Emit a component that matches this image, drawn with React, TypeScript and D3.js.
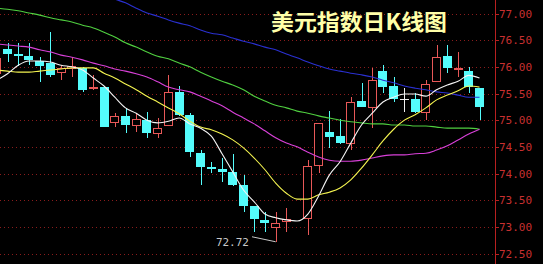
import React from "react";
import * as d3 from "d3";

// Daily candles, slot index 0..44 (slot -1 is the partly hidden first bar, slot 27 has no bar)
const slots = [-1, 0, 1, 2, 3, 4, 5, 6, 7, 8, 9, 10, 11, 12, 13, 14, 15, 16, 17, 18, 19, 20, 21, 22, 23, 24, 25, 26, 28, 29, 30, 31, 32, 33, 34, 35, 36, 37, 38, 39, 40, 41, 42, 43, 44];
const opens = [75.88, 76.33, 76.24, 76.20, 76.11, 76.07, 75.90, 75.97, 75.98, 75.60, 75.62, 74.97, 75.08, 74.91, 75.00, 74.76, 74.91, 75.53, 75.10, 74.38, 74.13, 74.09, 74.03, 73.78, 73.39, 73.13, 73.00, 73.12, 73.17, 74.16, 74.78, 74.70, 74.57, 75.36, 75.25, 75.92, 75.64, 75.40, 75.40, 75.15, 75.73, 76.20, 75.95, 75.92, 75.60];
const highs = [76.22, 76.45, 76.45, 76.45, 76.18, 76.65, 76.03, 76.18, 75.99, 75.85, 75.64, 75.13, 75.23, 75.13, 75.15, 75.04, 75.85, 75.64, 75.13, 74.44, 74.22, 74.29, 74.37, 73.97, 73.39, 73.28, 73.28, 73.36, 74.25, 74.95, 75.17, 75.02, 75.43, 75.70, 75.98, 76.03, 75.81, 75.60, 75.51, 75.75, 76.41, 76.41, 76.28, 76.00, 75.60];
const lows = [75.80, 76.10, 76.02, 76.04, 75.72, 75.81, 75.75, 75.81, 75.53, 75.56, 74.87, 74.87, 74.76, 74.78, 74.66, 74.66, 74.89, 75.08, 74.31, 73.78, 74.01, 73.84, 73.77, 73.28, 72.90, 72.90, 72.72, 72.90, 72.85, 74.01, 74.48, 74.55, 74.44, 75.24, 74.85, 75.51, 75.34, 75.15, 75.13, 75.00, 75.73, 75.88, 75.81, 75.51, 75.00];
const closes = [76.17, 76.24, 76.20, 76.13, 76.01, 75.85, 75.98, 76.01, 75.57, 75.62, 74.87, 75.08, 74.91, 75.02, 74.76, 74.85, 75.53, 75.10, 74.40, 74.12, 74.11, 74.04, 73.78, 73.39, 73.14, 73.08, 73.07, 73.15, 74.14, 74.95, 74.69, 74.57, 75.34, 75.25, 75.75, 75.62, 75.40, 75.40, 75.15, 75.68, 76.18, 75.98, 75.97, 75.62, 75.25];

// Moving averages, one value per slot -1..44
const maSlots = d3.range(-1, 45);
const ma5 = [75.75, 75.87, 76.03, 76.11, 76.11, 76.09, 76.03, 76.00, 75.94, 75.79, 75.64, 75.43, 75.23, 75.13, 75.00, 74.95, 74.98, 75.04, 74.93, 74.85, 74.70, 74.37, 74.03, 73.69, 73.47, 73.24, 73.17, 73.13, 73.11, 73.24, 73.58, 73.97, 74.22, 74.57, 74.91, 75.13, 75.34, 75.43, 75.49, 75.49, 75.45, 75.57, 75.66, 75.73, 75.84, 75.79];
const ma10 = [75.94, 75.92, 75.90, 75.90, 75.92, 75.94, 75.96, 75.98, 75.98, 75.98, 75.88, 75.79, 75.68, 75.57, 75.45, 75.34, 75.23, 75.12, 74.98, 74.87, 74.82, 74.74, 74.63, 74.48, 74.29, 74.07, 73.82, 73.63, 73.52, 73.52, 73.60, 73.65, 73.73, 73.88, 74.10, 74.35, 74.61, 74.83, 75.00, 75.10, 75.23, 75.38, 75.47, 75.55, 75.64, 75.62];
const ma20 = [76.43, 76.41, 76.39, 76.37, 76.32, 76.28, 76.22, 76.18, 76.13, 76.07, 76.02, 75.96, 75.92, 75.87, 75.81, 75.72, 75.62, 75.57, 75.53, 75.45, 75.36, 75.27, 75.15, 75.04, 74.93, 74.80, 74.67, 74.57, 74.50, 74.40, 74.31, 74.25, 74.23, 74.23, 74.25, 74.29, 74.33, 74.35, 74.35, 74.37, 74.38, 74.44, 74.52, 74.63, 74.74, 74.83];
const ma30 = [77.10, 77.08, 77.05, 77.01, 76.97, 76.92, 76.88, 76.84, 76.78, 76.73, 76.65, 76.56, 76.45, 76.37, 76.28, 76.20, 76.15, 76.07, 76.00, 75.90, 75.81, 75.73, 75.66, 75.57, 75.45, 75.36, 75.28, 75.23, 75.17, 75.13, 75.08, 75.04, 75.00, 74.97, 74.95, 74.93, 74.93, 74.91, 74.91, 74.89, 74.89, 74.87, 74.85, 74.85, 74.85, 74.83];
const ma60Slots = d3.range(9, 45);
const ma60 = [77.35, 77.27, 77.20, 77.10, 77.01, 76.95, 76.88, 76.82, 76.77, 76.69, 76.63, 76.60, 76.54, 76.48, 76.43, 76.37, 76.32, 76.24, 76.17, 76.09, 76.02, 75.96, 75.92, 75.88, 75.85, 75.81, 75.75, 75.70, 75.64, 75.60, 75.57, 75.53, 75.51, 75.47, 75.43, 75.43];

const priceTicks = [77.0, 76.5, 76.0, 75.5, 75.0, 74.5, 74.0, 73.5, 73.0, 72.5];
const lowLabel = "72.72";
const lowValue = 72.72;
const lowSlot = 25;
const title = "美元指数日K线图";

const W = 543;
const H = 264;
const AXIS_X = 495;

const UP = "#e85858";
const DOWN = "#54fcfc";
const DOJI = "#f0f0f0";

export default function App() {
  const x = d3.scaleLinear().domain([0, 44]).range([7.5, 479.5]);
  const y = d3.scaleLinear().domain([72.5, 77]).range([253.5, 13.5]);
  const bw = 9;

  const line = (xs: number[], vs: number[]) =>
    d3.line<number>()
      .x((_, i) => x(xs[i]))
      .y((v) => y(v))
      .curve(d3.curveMonotoneX)(vs) || "";

  const maDefs = [
    { vals: ma30, xs: maSlots, color: "#50d040" },
    { vals: ma60, xs: ma60Slots, color: "#2a30d0" },
    { vals: ma20, xs: maSlots, color: "#d840d8" },
    { vals: ma10, xs: maSlots, color: "#f4f450" },
    { vals: ma5, xs: maSlots, color: "#f4f4f4" },
  ];

  return (
    <svg
      width={W}
      height={H}
      style={{ position: "absolute", left: 0, top: 0, background: "#000", display: "block" }}
    >
      <rect x={0} y={0} width={W} height={H} fill="#000" />
      <defs>
        <clipPath id="plot">
          <rect x={0} y={0} width={AXIS_X} height={H} />
        </clipPath>
      </defs>

      {/* price grid */}
      {priceTicks.map((t) => (
        <line
          key={"g" + t}
          x1={0}
          x2={AXIS_X}
          y1={Math.round(y(t)) + 0.5}
          y2={Math.round(y(t)) + 0.5}
          stroke="#8a1c1c"
          strokeDasharray="1,3"
        />
      ))}

      <g clipPath="url(#plot)">
        <g shapeRendering="crispEdges">
          {slots.map((s, i) => {
            const o = opens[i];
            const c = closes[i];
            const cx = Math.round(x(s)) + 0.5;
            const top = y(Math.max(o, c));
            const bot = y(Math.min(o, c));
            const yh = y(highs[i]);
            const yl = y(lows[i]);
            const left = Math.round(x(s) - bw / 2);
            if (c > o) {
              return (
                <g key={s} stroke={UP} fill="none">
                  <line x1={cx} x2={cx} y1={yh} y2={top} />
                  <line x1={cx} x2={cx} y1={bot} y2={yl} />
                  <rect x={left + 0.5} y={Math.round(top) + 0.5} width={bw - 1} height={Math.max(1, Math.round(bot - top))} fill="#000" />
                </g>
              );
            }
            if (c === o) {
              return (
                <g key={s} stroke={DOJI}>
                  <line x1={cx} x2={cx} y1={yh} y2={yl} />
                  <line x1={left} x2={left + bw} y1={Math.round(top) + 0.5} y2={Math.round(top) + 0.5} />
                </g>
              );
            }
            return (
              <g key={s}>
                <line x1={cx} x2={cx} y1={yh} y2={yl} stroke={DOWN} />
                <rect x={left} y={Math.round(top)} width={bw} height={Math.max(1.5, Math.round(bot - top))} fill={DOWN} />
              </g>
            );
          })}
        </g>

        {maDefs.map((m, k) => (
          <path key={k} d={line(m.xs, m.vals)} fill="none" stroke={m.color} strokeWidth={1.1} />
        ))}

        {/* lowest price marker */}
        <line
          x1={252}
          y1={y(lowValue) - 5}
          x2={x(lowSlot)}
          y2={y(lowValue)}
          stroke="#c8c8c8"
        />
        <text
          x={249}
          y={y(lowValue) + 4}
          textAnchor="end"
          fill="#c8c8c8"
          fontFamily="'DejaVu Sans Mono', monospace"
          fontSize={11}
        >
          {lowLabel}
        </text>
      </g>

      {/* price axis */}
      <line x1={AXIS_X + 0.5} x2={AXIS_X + 0.5} y1={0} y2={H} stroke="#b82020" />
      {priceTicks.map((t) => (
        <g key={"t" + t}>
          <line x1={AXIS_X} x2={AXIS_X + 4} y1={Math.round(y(t)) + 0.5} y2={Math.round(y(t)) + 0.5} stroke="#b82020" />
          <text
            x={499}
            y={y(t) + 4}
            fill="#c83030"
            fontFamily="'DejaVu Sans Mono', monospace"
            fontSize={11}
          >
            {t.toFixed(2)}
          </text>
        </g>
      ))}

      <text
        x={271}
        y={30}
        fill="#ffffa8"
        fontFamily="'Noto Sans CJK SC', sans-serif"
        fontWeight="bold"
        fontSize={22}
        textLength={176}
        lengthAdjust="spacingAndGlyphs"
      >
        {title}
      </text>
    </svg>
  );
}
